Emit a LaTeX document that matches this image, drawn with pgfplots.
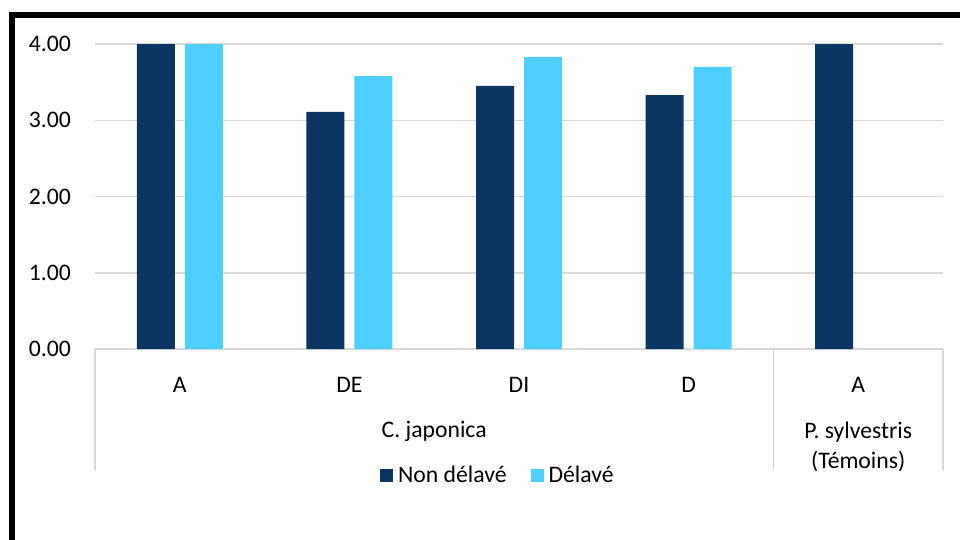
\documentclass[border=0pt]{standalone}
\usepackage{pgfplots}
\pgfplotsset{compat=1.18}
\usepackage{fontspec}
\setmainfont{Carlito}
\definecolor{navy}{HTML}{0A3661}
\definecolor{sky}{HTML}{4FCFFF}
\definecolor{gridgray}{HTML}{D9D9D9}
\begin{document}
\fontsize{23.7pt}{30pt}\selectfont
\begin{tikzpicture}
\path[use as bounding box] (0pt,0pt) rectangle (960pt,-540pt);
% outer frame (only left and top edges visible)
\draw[line width=6pt] (975pt,-15pt) -- (12pt,-15pt) -- (12pt,-560pt);
\begin{axis}[
    at={(95pt,-349pt)}, anchor=south west,
    scale only axis, width=848pt, height=305pt,
    ybar=10pt, bar width=38pt,
    xmin=-0.5, xmax=4.5, ymin=0, ymax=4,
    xtick={0,1,2,3,4},
    xticklabels={A,DE,DI,D,A},
    ytick={0,1,2,3,4},
    ymajorgrids=true,
    grid style={gridgray, line width=1.5pt},
    axis line style={draw=none},
    tick style={draw=none},
    /pgf/number format/assume math mode=true,
    yticklabel style={/pgf/number format/fixed, /pgf/number format/fixed zerofill,
        /pgf/number format/precision=2, xshift=-16pt},
    xticklabel style={yshift=-16pt},
    clip=false,
    legend style={at={(0.475,-0.416)}, anchor=center, draw=none, fill=none,
        legend columns=2,
        /tikz/every odd column/.append style={column sep=3pt},
        /tikz/every even column/.append style={column sep=22pt}},
    legend image code/.code={\fill[#1] (0pt,-6.5pt) rectangle (13pt,6.5pt);},
]
% Non delave
\addplot[fill=navy, draw=none] coordinates {(0,4) (1,3.11) (2,3.45) (3,3.33) (4,4)};
% Delave
\addplot[fill=sky, draw=none] coordinates {(0,4) (1,3.58) (2,3.83) (3,3.70)};
\legend{Non délavé, Délavé}

% multi-level category separators
\draw[gridgray, line width=1.5pt] (axis cs:-0.5,0) -- (axis cs:-0.5,-1.592);
\draw[gridgray, line width=1.5pt] (axis cs:3.5,0) -- (axis cs:3.5,-1.592);
\draw[gridgray, line width=1.5pt] (axis cs:4.5,0) -- (axis cs:4.5,-1.592);
\node at (axis cs:1.5,-1.08) {C. japonica};
\node[align=center] at (axis cs:4,-1.28) {P. sylvestris\\(Témoins)};
\end{axis}
\end{tikzpicture}
\end{document}
